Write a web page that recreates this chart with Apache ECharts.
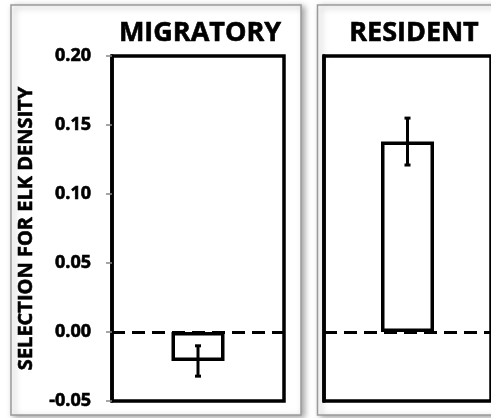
<!DOCTYPE html>
<html>
<head>
<meta charset="utf-8">
<script src="https://cdn.jsdelivr.net/npm/echarts@6/dist/echarts.min.js"></script>
<style>
  html, body { margin: 0; padding: 0; background: #fff; }
  #chart { width: 491px; height: 418px; }
</style>
</head>
<body>
<div id="chart"></div>
<script>
// Mean selection for elk density, by wolf pack strategy, with standard errors
const panels = ['MIGRATORY', 'RESIDENT'];
const means = [-0.021, 0.138];
const errors = [0.011, 0.017];
const yTicks = { min: -0.05, max: 0.20, step: 0.05 };
const yTitle = 'SELECTION FOR ELK DENSITY';

const FONT = 'Open Sans';
const heavy = { textBorderColor: '#000', textBorderWidth: 0.6 };
const chart = echarts.init(document.getElementById('chart'), null, { renderer: 'canvas' });

const grids = [
  { left: 112, top: 56, width: 172, height: 345 },
  { left: 324, top: 56, width: 172, height: 345 }
];
const titleCenters = [195, 409];

const option = {
  backgroundColor: '#fff',
  animation: false,
  title: panels.map((p, i) => ({
    text: p,
    left: titleCenters[i],
    top: 15,
    textAlign: 'center',
    textStyle: Object.assign({ fontFamily: FONT, fontWeight: 'bold', fontSize: 27, color: '#000' }, heavy)
  })),
  graphic: [
    {
      type: 'rect', z: -10,
      shape: { x: 11, y: 5, width: 290, height: 410 },
      style: { fill: '#fff', stroke: '#9a9a9a', lineWidth: 1.5,
               shadowBlur: 6, shadowOffsetX: 3, shadowOffsetY: 2, shadowColor: 'rgba(0,0,0,0.35)' }
    },
    {
      type: 'rect', z: -10,
      shape: { x: 317.5, y: 5, width: 220, height: 410 },
      style: { fill: '#fff', stroke: '#9a9a9a', lineWidth: 1.5,
               shadowBlur: 6, shadowOffsetX: 3, shadowOffsetY: 2, shadowColor: 'rgba(0,0,0,0.35)' }
    }
  ],
  grid: grids.map(g => Object.assign({ show: true, borderColor: '#000', borderWidth: 3.5, backgroundColor: 'transparent' }, g)),
  xAxis: panels.map((p, i) => ({
    type: 'category', gridIndex: i, data: [p], show: false
  })),
  yAxis: panels.map((p, i) => ({
    type: 'value', gridIndex: i,
    min: yTicks.min, max: yTicks.max, interval: yTicks.step,
    name: i === 0 ? yTitle : '',
    nameLocation: 'middle', nameGap: 76,
    nameTextStyle: Object.assign({ fontFamily: FONT, fontWeight: 'bold', fontSize: 20, color: '#000' }, heavy),
    splitLine: { show: false },
    axisLine: { show: true, lineStyle: { color: '#000', width: 3.5 } },
    axisTick: { show: i === 0, length: 6, lineStyle: { color: '#888', width: 1.5 } },
    axisLabel: Object.assign({
      show: i === 0, margin: 21,
      fontFamily: FONT, fontWeight: 'bold', fontSize: 18, color: '#000',
      formatter: v => v.toFixed(2)
    }, heavy)
  })),
  series: [
    ...panels.map((p, i) => ({
      type: 'bar', xAxisIndex: i, yAxisIndex: i,
      data: [means[i]], barWidth: 53,
      itemStyle: { color: '#fff', borderColor: '#000', borderWidth: 3.5 },
      markLine: {
        silent: true, symbol: 'none', label: { show: false },
        lineStyle: { color: '#000', width: 3, type: [13, 7] },
        data: [{ yAxis: 0 }]
      },
      z: 2
    })),
    ...panels.map((p, i) => ({
      type: 'custom', xAxisIndex: i, yAxisIndex: i, z: 5,
      data: [[0, means[i] - errors[i], means[i] + errors[i]]],
      renderItem: (params, api) => {
        const lo = api.coord([api.value(0), api.value(1)]);
        const hi = api.coord([api.value(0), api.value(2)]);
        const cap = 3;
        const st = { stroke: '#000', lineWidth: 3 };
        return {
          type: 'group',
          children: [
            { type: 'line', shape: { x1: lo[0], y1: lo[1], x2: hi[0], y2: hi[1] }, style: st },
            { type: 'line', shape: { x1: lo[0] - cap, y1: lo[1], x2: lo[0] + cap, y2: lo[1] }, style: st },
            { type: 'line', shape: { x1: hi[0] - cap, y1: hi[1], x2: hi[0] + cap, y2: hi[1] }, style: st }
          ]
        };
      }
    }))
  ]
};

chart.setOption(option);
</script>
</body>
</html>
